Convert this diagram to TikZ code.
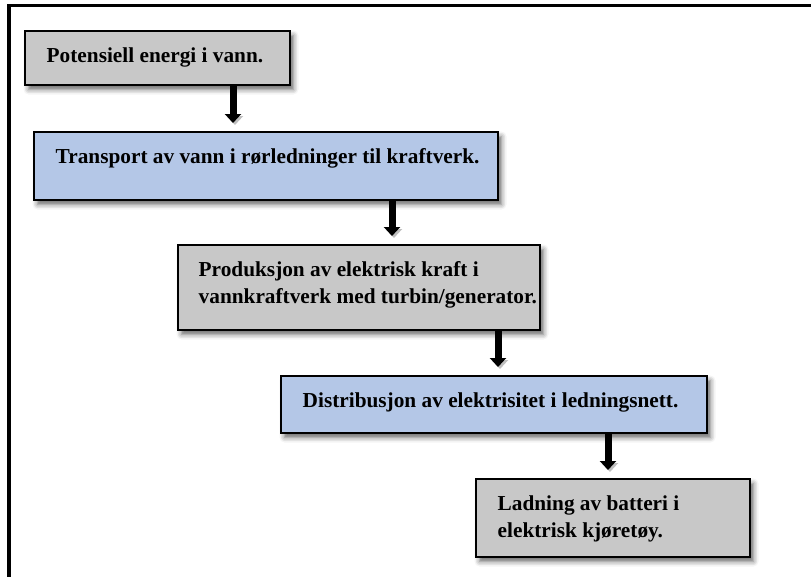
\documentclass[tikz,border=0pt]{standalone}
\usepackage{fontspec}
\setmainfont{Liberation Serif}
\usetikzlibrary{arrows.meta,shadows.blur}
\definecolor{boxgray}{RGB}{200,200,200}
\definecolor{boxblue}{RGB}{180,199,231}
\begin{document}
\begin{tikzpicture}[x=1pt,y=-1pt,
  stage/.style={draw=black, line width=1.4pt, inner sep=0pt, outer sep=0pt,
    anchor=north west,
    blur shadow={shadow xshift=3.5pt, shadow yshift=-4.5pt,
      shadow blur radius=5pt, shadow opacity=60}},
  graybox/.style={stage, fill=boxgray},
  bluebox/.style={stage, fill=boxblue},
  caption/.style={anchor=north west, inner sep=0pt, align=left,
    font=\bfseries\fontsize{21.3}{27}\selectfont},
  flow/.style={line width=7pt, -{Triangle[width=16pt,length=9pt]},
    shorten >=9pt,
    preaction={draw=black!25, transform canvas={xshift=2pt,yshift=-2pt}}}
]
\clip (0,0) rectangle (811,576);
% page frame
\draw[line width=3.5pt] (9,5.7) rectangle (900,700);

% stage boxes
\node[graybox, minimum width=265pt, minimum height=54pt] (b1) at (25,31) {};
\node[bluebox, minimum width=464pt, minimum height=68pt] (b2) at (34,132) {};
\node[graybox, minimum width=362pt, minimum height=85pt] (b3) at (178,245) {};
\node[bluebox, minimum width=426pt, minimum height=57pt] (b4) at (281,376) {};
\node[graybox, minimum width=274pt, minimum height=78pt] (b5) at (476,479) {};

% captions: first line hangs from a fixed top strut
\tikzset{capshift/.style={xshift=21.5pt,yshift=-12.5pt}}
\node[caption] (t1) at ([capshift]b1.north west) {\strut Potensiell energi i vann.};
\node[caption] (t2) at ([capshift]b2.north west) {\strut Transport av vann i rørledninger til kraftverk.};
\node[caption] (t3) at ([capshift,xshift=-1pt]b3.north west) {\strut Produksjon av elektrisk kraft i\\vannkraftverk med turbin/generator.};
\node[caption] (t4) at ([capshift]b4.north west) {\strut Distribusjon av elektrisitet i ledningsnett.};
\node[caption] (t5) at ([capshift]b5.north west) {\strut Ladning av batteri i\\elektrisk kjøretøy.};

% flow arrows
\coordinate (a1) at ([xshift=75.5pt]b1.south);
\coordinate (a2) at ([xshift=126pt]b2.south);
\coordinate (a3) at ([xshift=139pt]b3.south);
\coordinate (a4) at ([xshift=114pt]b4.south);
\draw[flow] (a1) -- (a1 |- b2.north);
\draw[flow] (a2) -- (a2 |- b3.north);
\draw[flow] (a3) -- (a3 |- b4.north);
\draw[flow] (a4) -- (a4 |- b5.north);
\end{tikzpicture}
\end{document}
